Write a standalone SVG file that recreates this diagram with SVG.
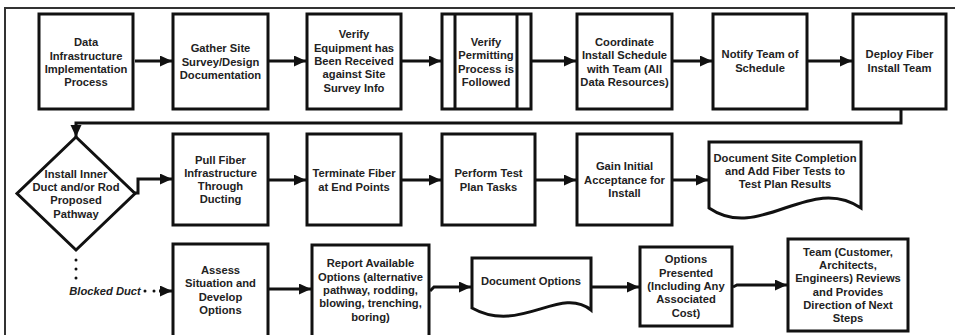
<svg xmlns="http://www.w3.org/2000/svg" width="958" height="335" viewBox="0 0 958 335">
<defs>
<style>
.b{fill:#fff;stroke:#111;stroke-width:3;stroke-linejoin:miter}
.c{fill:none;stroke:#111;stroke-width:3}
.t{font-family:"Liberation Sans",Arial,sans-serif;font-weight:bold;font-size:11.2px;fill:#222;text-anchor:middle}
.d{fill:none;stroke:#111;stroke-width:3;stroke-linecap:round;stroke-dasharray:0 9}
</style>
<marker id="ah" markerUnits="userSpaceOnUse" markerWidth="13" markerHeight="12" refX="12" refY="5.5" orient="auto">
<path d="M0,0 L12,5.5 L0,11 Z" fill="#111"/>
</marker>
</defs>
<rect width="958" height="335" fill="#fff"/>
<path d="M5,336 V8 H955" fill="none" stroke="#333" stroke-width="2"/>

<g id="n1"><rect class="b" x="39" y="14" width="94" height="95"/>
<text class="t" x="86"><tspan x="86" y="46.4">Data</tspan><tspan x="86" y="59.7">Infrastructure</tspan><tspan x="86" y="73">Implementation</tspan><tspan x="86" y="86.3">Process</tspan></text></g>
<g id="n2"><rect class="b" x="173" y="14" width="95" height="95"/>
<text class="t"><tspan x="220.5" y="52.4">Gather Site</tspan><tspan x="220.5" y="65.7">Survey/Design</tspan><tspan x="220.5" y="79">Documentation</tspan></text></g>
<g id="n3"><rect class="b" x="307" y="14" width="94" height="95"/>
<text class="t"><tspan x="354" y="38.4">Verify</tspan><tspan x="354" y="51.7">Equipment has</tspan><tspan x="354" y="65">Been Received</tspan><tspan x="354" y="78.3">against Site</tspan><tspan x="354" y="91.6">Survey Info</tspan></text></g>
<g id="n4"><rect class="b" x="442" y="14" width="89" height="95"/>
<path class="c" d="M455,14 V109 M517,14 V109"/>
<text class="t"><tspan x="486" y="46">Verify</tspan><tspan x="486" y="59.3">Permitting</tspan><tspan x="486" y="72.6">Process is</tspan><tspan x="486" y="85.9">Followed</tspan></text></g>
<g id="n5"><rect class="b" x="577" y="14" width="95" height="95"/>
<text class="t"><tspan x="624.5" y="46">Coordinate</tspan><tspan x="624.5" y="59.3">Install Schedule</tspan><tspan x="624.5" y="72.6">with Team (All</tspan><tspan x="624.5" y="85.9">Data Resources)</tspan></text></g>
<g id="n6"><rect class="b" x="713" y="14" width="94" height="95"/>
<text class="t"><tspan x="760" y="58.4">Notify Team of</tspan><tspan x="760" y="71.7">Schedule</tspan></text></g>
<g id="n7"><rect class="b" x="853" y="14" width="93" height="95"/>
<text class="t"><tspan x="899.5" y="58.4">Deploy Fiber</tspan><tspan x="899.5" y="71.7">Install Team</tspan></text></g>

<g id="n8"><path class="b" d="M76,137 L135,193.5 L76,250 L17,193.5 Z"/>
<text class="t"><tspan x="76" y="177.6">Install Inner</tspan><tspan x="76" y="190.9">Duct and/or Rod</tspan><tspan x="76" y="204.2">Proposed</tspan><tspan x="76" y="217.5">Pathway</tspan></text></g>
<g id="n9"><rect class="b" x="173" y="134" width="95" height="91"/>
<text class="t"><tspan x="220.5" y="163.5">Pull Fiber</tspan><tspan x="220.5" y="176.8">Infrastructure</tspan><tspan x="220.5" y="190.1">Through</tspan><tspan x="220.5" y="203.4">Ducting</tspan></text></g>
<g id="n10"><rect class="b" x="307" y="134" width="94" height="91"/>
<text class="t"><tspan x="354" y="177.4">Terminate Fiber</tspan><tspan x="354" y="190.7">at End Points</tspan></text></g>
<g id="n11"><rect class="b" x="442" y="134" width="93" height="91"/>
<text class="t"><tspan x="488.5" y="177.4">Perform Test</tspan><tspan x="488.5" y="190.7">Plan Tasks</tspan></text></g>
<g id="n12"><rect class="b" x="577" y="134" width="95" height="91"/>
<text class="t"><tspan x="624.5" y="170.2">Gain Initial</tspan><tspan x="624.5" y="183.5">Acceptance for</tspan><tspan x="624.5" y="196.8">Install</tspan></text></g>
<g id="n13"><path class="b" d="M709,142 H861 V208 C810,173 760,243 709,208 Z"/>
<text class="t"><tspan x="785" y="161.7">Document Site Completion</tspan><tspan x="785" y="175">and Add Fiber Tests to</tspan><tspan x="785" y="188.3">Test Plan Results</tspan></text></g>

<g id="n14"><rect class="b" x="173" y="244" width="95" height="96"/>
<text class="t"><tspan x="220.5" y="274">Assess</tspan><tspan x="220.5" y="287.3">Situation and</tspan><tspan x="220.5" y="300.6">Develop</tspan><tspan x="220.5" y="313.9">Options</tspan></text></g>
<g id="n15"><rect class="b" x="312" y="245" width="117" height="95"/>
<text class="t"><tspan x="370.5" y="267.4">Report Available</tspan><tspan x="370.5" y="280.7">Options (alternative</tspan><tspan x="370.5" y="294">pathway, rodding,</tspan><tspan x="370.5" y="307.3">blowing, trenching,</tspan><tspan x="370.5" y="320.6">boring)</tspan></text></g>
<g id="n16"><path class="b" d="M472,258 H591 V310 C560,285 520,335 472,308 Z"/>
<text class="t"><tspan x="531" y="285">Document Options</tspan></text></g>
<g id="n17"><rect class="b" x="640" y="247" width="92" height="79"/>
<text class="t"><tspan x="686" y="263.4">Options</tspan><tspan x="686" y="276.7">Presented</tspan><tspan x="686" y="290">(Including Any</tspan><tspan x="686" y="303.3">Associated</tspan><tspan x="686" y="316.6">Cost)</tspan></text></g>
<g id="n18"><rect class="b" x="788" y="239" width="120" height="92"/>
<text class="t"><tspan x="848" y="255.7">Team (Customer,</tspan><tspan x="848" y="269">Architects,</tspan><tspan x="848" y="282.3">Engineers) Reviews</tspan><tspan x="848" y="295.6">and Provides</tspan><tspan x="848" y="308.9">Direction of Next</tspan><tspan x="848" y="322.2">Steps</tspan></text></g>

<g id="connectors">
<path class="c" marker-end="url(#ah)" d="M135,61 H172"/>
<path class="c" marker-end="url(#ah)" d="M269,61 H306"/>
<path class="c" marker-end="url(#ah)" d="M402,61 H441"/>
<path class="c" marker-end="url(#ah)" d="M532,61 H576"/>
<path class="c" marker-end="url(#ah)" d="M673,61 H712"/>
<path class="c" marker-end="url(#ah)" d="M808,61 H852"/>
<path class="c" marker-end="url(#ah)" d="M901,110 V123 H76 V137"/>
<path class="c" marker-end="url(#ah)" d="M134,193 H138 V179 H172"/>
<path class="c" marker-end="url(#ah)" d="M269,180 H306"/>
<path class="c" marker-end="url(#ah)" d="M402,180 H441"/>
<path class="c" marker-end="url(#ah)" d="M536,180 H576"/>
<path class="c" marker-end="url(#ah)" d="M673,180 H708"/>
<path class="c" marker-end="url(#ah)" d="M269,289 H311"/>
<path class="c" marker-end="url(#ah)" d="M430,291 L434,287 H471"/>
<path class="c" marker-end="url(#ah)" d="M591,287 H639"/>
<path class="c" marker-end="url(#ah)" d="M733,287 L737,285 H787"/>
<g id="blocked">
<path class="d" d="M76,260 V279"/>
<path class="d" d="M145,291 H156"/>
<path class="c" marker-end="url(#ah)" d="M159,291 H172"/>
<text class="t" x="105" y="294.5" style="font-style:italic">Blocked Duct</text>
</g>
</g>
</svg>
